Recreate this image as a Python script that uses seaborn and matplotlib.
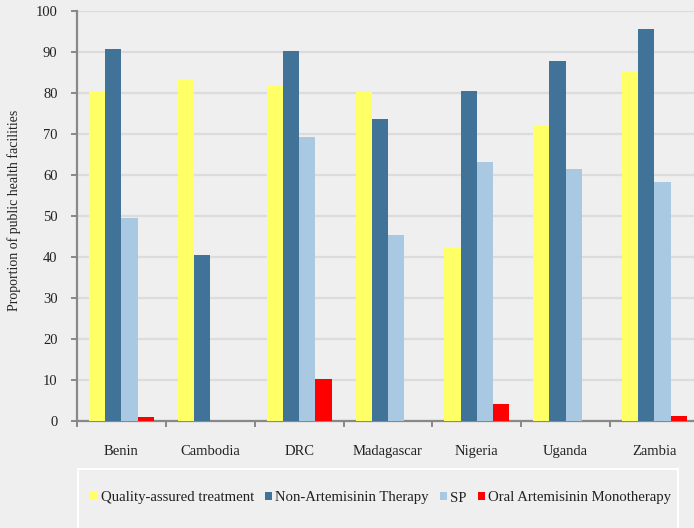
import matplotlib
matplotlib.use("Agg")
import matplotlib.pyplot as plt
import matplotlib.patches as mpatches
import seaborn as sns
import pandas as pd
import numpy as np

countries = ["Benin", "Cambodia", "DRC", "Madagascar", "Nigeria", "Uganda", "Zambia"]
series_names = ["Quality-assured treatment", "Non-Artemisinin Therapy", "SP",
                "Oral Artemisinin Monotherapy"]
quality_assured = [80.5, 83.3, 81.7, 80.3, 42.4, 72.0, 85.2]
non_artemisinin = [90.7, 40.5, 90.2, 73.7, 80.5, 87.8, 95.6]
sp = [49.5, 0.0, 69.3, 45.4, 63.2, 61.5, 58.3]
oral_monotherapy = [1.0, 0.0, 10.2, 0.0, 4.1, 0.0, 1.2]
colors = ["#FFFF66", "#417298", "#A9C9E3", "#FF0000"]
yticks = [0, 10, 20, 30, 40, 50, 60, 70, 80, 90, 100]

df = pd.DataFrame({
    "country": countries * 4,
    "series": np.repeat(series_names, len(countries)),
    "value": quality_assured + non_artemisinin + sp + oral_monotherapy,
})

bg = "#EFEFEF"
sns.set_theme(style="white")
plt.rcParams["font.family"] = ["Liberation Serif", "DejaVu Serif"]

fig = plt.figure(figsize=(6.94, 5.28), dpi=100, facecolor=bg)
ax = fig.add_axes([0.111, 0.2027, 0.896, 0.7763])
ax.set_facecolor(bg)

sns.barplot(data=df, x="country", y="value", hue="series", order=countries,
            hue_order=series_names, palette=colors, width=0.73, saturation=1,
            linewidth=0, ax=ax, legend=False, zorder=3)

ax.set_xlim(-0.5, len(countries) - 0.5)
ax.set_ylim(0, 100)
ax.set_yticks(yticks)
ax.set_yticklabels([str(t) for t in yticks], fontsize=10.5, color="#222222")
ax.grid(axis="y", color="#DCDCDC", linewidth=1.6, zorder=0)
ax.set_axisbelow(True)

# category labels centred, tick marks at the group boundaries
ax.set_xticks(range(len(countries)))
ax.set_xticklabels(countries, fontsize=10.5, color="#222222")
ax.tick_params(axis="x", which="major", length=0, pad=17.5, bottom=True)
ax.set_xticks(np.arange(-0.5, len(countries) + 0.5, 1), minor=True)
ax.tick_params(axis="x", which="minor", length=4, width=1.4, color="#888888",
               direction="out", bottom=True)
ax.tick_params(axis="y", length=4, width=1.4, color="#888888", direction="out",
               pad=10, left=True)

for side in ["top", "right"]:
    ax.spines[side].set_visible(False)
for side in ["left", "bottom"]:
    ax.spines[side].set_color("#888888")
    ax.spines[side].set_linewidth(1.6)

ax.set_xlabel("")
ax.set_ylabel("Proportion of public health facilities", fontsize=10,
              color="#222222")
ax.yaxis.set_label_coords(-0.090, 0.515)

# legend panel beneath the plot
box = mpatches.Rectangle((78 / 694, -0.05), 600 / 694, 1 - 469 / 528 + 0.05,
                         transform=fig.transFigure, facecolor=bg,
                         edgecolor="white", linewidth=1.5)
fig.patches.append(box)
handles = [mpatches.Patch(facecolor=c, edgecolor="none") for c in colors]
fig.legend(handles, series_names, loc="center left",
           bbox_to_anchor=(83 / 694, 1 - 498 / 528), ncol=4, frameon=False,
           fontsize=10.6, handlelength=0.5, handleheight=0.5, handletextpad=0.2,
           columnspacing=0.75, borderpad=0, labelcolor="#222222")

fig.savefig("out.png", dpi=100, facecolor=bg)
